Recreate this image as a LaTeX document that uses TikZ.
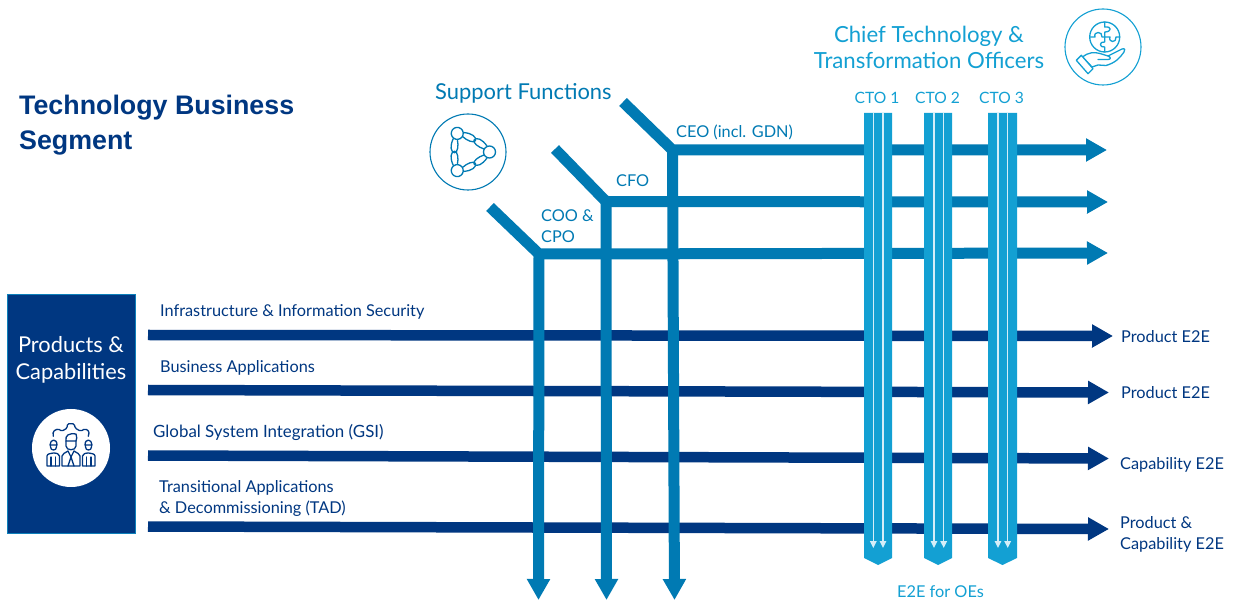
\documentclass[tikz,border=0pt]{standalone}
\usepackage{fontspec}
\usetikzlibrary{arrows.meta}
\setmainfont{Lato}
\newfontfamily\titlefont{Liberation Sans}
\definecolor{navy}{HTML}{003781}
\definecolor{midb}{HTML}{007AB3}
\definecolor{lightb}{HTML}{13A0D3}
\definecolor{paleline}{HTML}{D5EEF8}
\tikzset{
  x=1pt,y=-1pt,
  lbl/.style={inner sep=0pt,anchor=west,align=left,font=\fontsize{16.3}{20.5}\selectfont,text=navy},
  mlbl/.style={lbl,text=midb},
  llbl/.style={lbl,text=lightb},
  darkarrow/.style={draw=navy,line width=10.5pt,-{Triangle[length=21pt,width=22pt]}},
  midline/.style={draw=midb,line width=11pt,line join=miter},
  midarrow/.style={midline,-{Triangle[length=21pt,width=22pt]}},
  ctocol/.style={fill=lightb,draw=none},
  whitearrow/.style={draw=paleline,line width=1.5pt,-{Triangle[length=7pt,width=6.5pt]}},
  iconline/.style={line width=1.3pt,line join=round,line cap=round},
}
\begin{document}
\begin{tikzpicture}
\useasboundingbox (0,0) rectangle (1235,601);
\fill[white] (0,0) rectangle (1235,601);
% coordinates
\foreach \n/\xa/\ya/\xb/\yb in {d1/148/335/1113/336,d2/148/390/1109/392.5,d3/148/455.5/1109/458.5,d4/148/526.5/1109/529}{
  \coordinate (\n s) at (\xa,\ya); \coordinate (\n e) at (\xb,\yb);
  \draw[darkarrow] (\n s) -- (\n e);}
% support rows
\foreach \n/\xa/\ya/\xb/\yb/\xc/\yc/\xd/\yd in {coo/490/207/539/254/1108/253/538.5/600,cfo/555/149/606/201.5/1108/202/606.5/600,ceo/623/102/672.5/150/1107/150/674.5/600}{
  \coordinate (\n d) at (\xa,\ya); \coordinate (\n c) at (\xb,\yb); \coordinate (\n h) at (\xc,\yc); \coordinate (\n v) at (\xd,\yd);
  \draw[midarrow] (\n c) -- (\n v);
  \draw[midarrow] (\n d) -- (\n c) -- (\n h);
}
% CTO columns
\foreach \l/\r/\w/\u in {864/892/873.3/883,924/952/934/943.7,988/1017/998/1007.7}{
  \pgfmathsetmacro\mm{(\l+\r)/2}
  \fill[ctocol] (\l,113) -- (\r,113) -- (\r,558) -- (\mm,565) -- (\l,558) -- cycle;
  \coordinate (wa) at (\w,113); \coordinate (wb) at (\w,548);
  \coordinate (ua) at (\u,113); \coordinate (ub) at (\u,548);
  \draw[whitearrow] (wa) -- (wb);
  \draw[whitearrow] (ua) -- (ub);
}
% left box
\node[fill=navy,draw=lightb!70!navy,line width=.8pt,minimum width=128pt,minimum height=239pt,inner sep=0pt,anchor=north west] (box) at (7,294) {};
\node[text=white,font=\fontsize{21.8}{27}\selectfont,align=center,inner sep=0pt] (pc) at (71,359.5) {Products \&\\Capabilities};
\node[circle,fill=white,minimum size=78pt,inner sep=0pt] (pcicon) at (71,448) {};
% titles
\node[inner sep=0pt,anchor=west,align=left,font=\titlefont\bfseries\fontsize{26.8}{35}\selectfont,text=navy] (title) at (19,125) {Technology Business\\Segment};
\node[mlbl,font=\fontsize{21.9}{24}\selectfont] (sf) at (435,93) {Support Functions};
\node[llbl,font=\fontsize{22.2}{26.5}\selectfont,align=center,anchor=center] (ct) at (929,47.5) {Chief Technology \&\\Transformation Officers};
% CTO labels
\node[llbl,anchor=center,font=\fontsize{15.6}{20}\selectfont] (c1) at (877,98) {CTO 1};
\node[llbl,anchor=center,font=\fontsize{15.6}{20}\selectfont] (c2) at (937.5,98) {CTO 2};
\node[llbl,anchor=center,font=\fontsize{15.6}{20}\selectfont] (c3) at (1001.5,98) {CTO 3};
\node[llbl,anchor=center] (e2e) at (940.5,592) {E2E for OEs};
% mid labels
\node[mlbl] (l1) at (676,132.5) {CEO (incl. GDN)};
\node[mlbl] (l2) at (616,180.5) {CFO};
\node[mlbl] (l3) at (541,226) {COO \&\\CPO};
% dark labels
\node[lbl] (r1) at (160,311.5) {Infrastructure \& Information Security};
\node[lbl] (r2) at (160,367.5) {Business Applications};
\node[lbl,font=\fontsize{16.9}{20.5}\selectfont] (r3) at (153,432.5) {Global System Integration (GSI)};
\node[lbl] (r4) at (159,498.5) {Transitional Applications\\\& Decommissioning (TAD)};
\node[lbl] (o1) at (1121,337) {Product E2E};
\node[lbl] (o2) at (1121,393) {Product E2E};
\node[lbl] (o3) at (1120,464.5) {Capability E2E};
\node[lbl] (o4) at (1120,534.5) {Product \&\\Capability E2E};
% icon: support functions
\node[circle,draw=midb,line width=1.1pt,minimum size=76pt,inner sep=0pt] (sficon) at (468,152) {};
\begin{scope}[shift={(468,152)}]
  \foreach \a in {0,120,240}{
    \begin{scope}[rotate=\a]
      \draw[iconline,midb] (21.5,0) circle (6);
      \draw[iconline,midb] (19,-6) .. controls (14,-13) and (9,-15) .. (6,-12) .. controls (5,-9) and (10,-5) .. (16,-3);
      \draw[iconline,midb] (19,6) .. controls (14,13) and (9,15) .. (6,12) .. controls (5,9) and (10,5) .. (16,3);
    \end{scope}
  }
\end{scope}
% icon: puzzle globe in hand
\node[circle,draw=lightb,line width=1.1pt,minimum size=76pt,inner sep=0pt] (cticon) at (1103,47) {};
\begin{scope}[shift={(1103,47)}]
  \draw[iconline,lightb] (1.7,-10) circle (15);
  \draw[iconline,lightb] (-13.3,-10) -- (-8,-10) .. controls (-10,-16) and (0,-16) .. (-1,-10) -- (1.7,-10);
  \draw[iconline,lightb] (1.7,-25) -- (1.7,-20) .. controls (9,-21) and (9,-15) .. (1.7,-15) -- (1.7,-5) .. controls (-4,-6) and (-4,1) .. (1.7,0) -- (1.7,5);
  \draw[iconline,lightb] (1.7,-10) -- (7,-10) .. controls (5,-4) and (14,-4) .. (13,-10) -- (16.7,-10);
  \filldraw[iconline,draw=lightb,fill=white] (-20.5,10) .. controls (-14,5) and (-9,5) .. (-3,6.5) -- (5,9) -- (19,2) .. controls (22,1) and (22.5,3) .. (21,5) .. controls (17,11) and (12,16) .. (3,18.5) -- (-5,18) -- (-11,20) -- cycle;
  \draw[iconline,lightb] (5,9) .. controls (8,10) and (8,12.5) .. (5,12.5) -- (-5,12.5);
  \filldraw[iconline,draw=lightb,fill=white] (-26.7,13.3) -- (-21.7,8.3) -- (-10,21.7) -- (-15,26.7) -- cycle;
\end{scope}
% icon: people
\begin{scope}[shift={(71,448)}]
  % gear outline
  \draw[iconline,navy,rounded corners=1.5pt] (-17.7,-11.7) -- (-18,-16.7) -- (-12.7,-19.3) -- (-9.3,-16.7) -- (-3.7,-20) -- (-3.7,-24.3) -- (3.3,-24.3) -- (4,-20) -- (9.7,-16.7) -- (14,-19.3) -- (18.3,-16.7) -- (17.3,-11.7);
  % centre man
  \draw[iconline,navy] (-5,-7) -- (-5,-2) .. controls (-5,3) and (5,3) .. (5,-2) -- (5,-7);
  \draw[iconline,navy] (-5,-7) .. controls (-6,-13) and (-2,-15) .. (5,-14) .. controls (6,-11) and (6,-9) .. (5,-7) -- cycle;
  \draw[iconline,navy] (-9,18) -- (-9,8) .. controls (-9,6) and (-6,5) .. (-3,3) -- (0,9) -- (3,3) .. controls (6,5) and (9,6) .. (9,8) -- (9,18) -- cycle;
  \draw[iconline,navy] (-3,18) -- (0,9) -- (3,18);
  % left man
  \draw[iconline,navy] (-20.5,-3) -- (-20.5,-1) .. controls (-20.5,3) and (-14.5,3) .. (-14.5,-1) -- (-14.5,-3);
  \draw[iconline,navy] (-21,-3) .. controls (-21,-9) and (-14,-10) .. (-14,-3) -- cycle;
  \draw[iconline,navy] (-24,18) -- (-24,8) .. controls (-24,6) and (-20,5) .. (-17.5,5) .. controls (-14,5) and (-12,6) .. (-11.5,8) -- (-11.5,18) -- cycle;
  \draw[iconline,navy] (-20,9) -- (-20,18) (-15.5,9) -- (-15.5,18);
  % right man
  \draw[iconline,navy] (20.5,-3) -- (20.5,-1) .. controls (20.5,3) and (14.5,3) .. (14.5,-1) -- (14.5,-3);
  \draw[iconline,navy] (21,-3) .. controls (21,-9) and (14,-10) .. (14,-3) -- cycle;
  \draw[iconline,navy] (24,18) -- (24,8) .. controls (24,6) and (20,5) .. (17.5,5) .. controls (14,5) and (12,6) .. (11.5,8) -- (11.5,18) -- cycle;
  \draw[iconline,navy] (20,9) -- (20,18) (15.5,9) -- (15.5,18);
\end{scope}
\end{tikzpicture}
\end{document}
